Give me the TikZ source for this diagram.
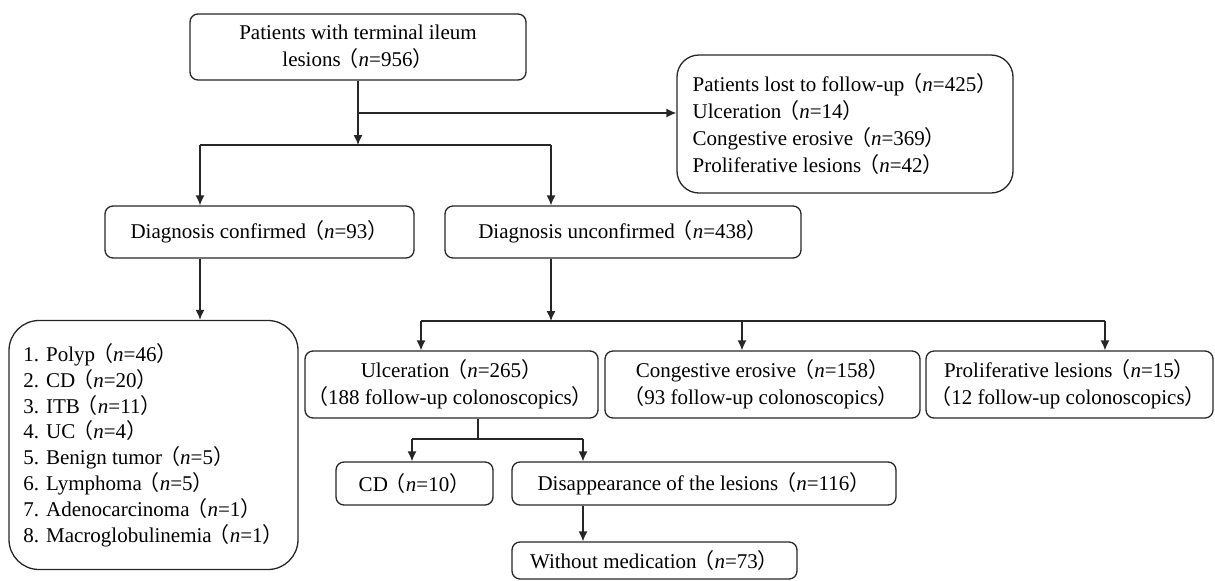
\documentclass[tikz,border=0pt]{standalone}
\usepackage{fontspec}
\setmainfont{Liberation Serif}
\newfontfamily\cjk{Noto Sans CJK SC}
\usetikzlibrary{arrows.meta}
\newcommand\lp{\kern-1.5pt{\cjk （}}
\newcommand\rp{{\cjk ）}}
\newcommand\nn[1]{\lp\textit{n}=#1\rp}

\begin{document}
\begin{tikzpicture}[x=0.5pt,y=-0.5pt,
  box/.style={draw=black!85, line width=0.65pt, rounded corners=4pt, inner sep=0pt,
    font=\fontsize{10.5}{13.5}\selectfont, align=center},
  bigbox/.style={box, rounded corners=11pt, align=left},
  arr/.style={-{Latex[length=5pt,width=4.5pt]}, line width=0.65pt, draw=black!85},
  link/.style={line width=0.65pt, draw=black!85}]
 \useasboundingbox (0,0) rectangle (1215,580);

\node[box, minimum width=168pt, minimum height=33pt] (top) at (358,47)
  {Patients with terminal ileum\\lesions\nn{956}};
\node[bigbox, minimum width=168pt, minimum height=69pt] (lost) at (845,124)
  {Patients lost to follow-up\nn{425}\\Ulceration\nn{14}\\Congestive erosive\nn{369}\\Proliferative lesions\nn{42}};

\node[box, minimum width=154.5pt, minimum height=26pt] (conf) at (259.5,232) {Diagnosis confirmed\nn{93}};
\node[box, minimum width=178pt, minimum height=26pt] (unconf) at (623,232) {Diagnosis unconfirmed\nn{438}};

\node[bigbox, rounded corners=15pt, minimum width=144.5pt, minimum height=124.5pt,
  font=\fontsize{10.5}{12.9}\selectfont] (list) at (153.5,445)
  {1. Polyp\nn{46}\\2. CD\nn{20}\\3. ITB\nn{11}\\4. UC\nn{4}\\5. Benign tumor\nn{5}\\
   6. Lymphoma\nn{5}\\7. Adenocarcinoma\nn{1}\\8. Macroglobulinemia\nn{1}};

\node[box, minimum width=146.5pt, minimum height=33.5pt] (ulc) at (451.5,384.5)
  {Ulceration\nn{265}\\\lp 188 follow-up colonoscopics\rp};
\node[box, minimum width=157.5pt, minimum height=33.5pt] (cong) at (762.5,384.5)
  {Congestive erosive\nn{158}\\\lp 93 follow-up colonoscopics\rp};
\node[box, minimum width=143.5pt, minimum height=33.5pt] (prol) at (1069.5,384.5)
  {Proliferative lesions\nn{15}\\\lp 12 follow-up colonoscopics\rp};

\node[box, minimum width=78.5pt, minimum height=21.5pt] (cd) at (414.5,483.5) {CD\nn{10}};
\node[box, minimum width=192pt, minimum height=21.5pt] (gone) at (704,483.5) {Disappearance of the lesions\nn{116}};
\node[box, minimum width=142.5pt, minimum height=18.5pt] (nomed) at (654.5,560.5) {Without medication\nn{73}};

\coordinate (lj) at (200,145);
\coordinate (rj) at (551,145);
\coordinate (bj) at (358,113);
\draw[arr] (top.south) -- (top.south |- lj);
\draw[link] (lj) -- (rj);
\draw[arr] (bj) -- (bj -| lost.west);
\draw[arr] (lj) -- (lj |- conf.north);
\draw[arr] (rj) -- (rj |- unconf.north);
\draw[arr] (lj |- conf.south) -- (lj |- list.north);

\coordinate (dj) at (551,321);
\draw[arr] (rj |- unconf.south) -- (dj);
\draw[link] (421,321) -- (1105,321);
\foreach \x/\b in {421/ulc, 742/cong, 1105/prol}{
  \coordinate (k\b) at (\x,321);
  \draw[arr] (k\b) -- (k\b |- \b.north);
}

\coordinate (uj) at (478,439);
\draw[link] (uj |- ulc.south) -- (uj);
\draw[link] (412,439) -- (583,439);
\foreach \x/\b in {412/cd, 583/gone}{
  \coordinate (k\b) at (\x,439);
  \draw[arr] (k\b) -- (k\b |- \b.north);
}
\draw[arr] (kgone |- gone.south) -- (kgone |- nomed.north);

\end{tikzpicture}
\end{document}
